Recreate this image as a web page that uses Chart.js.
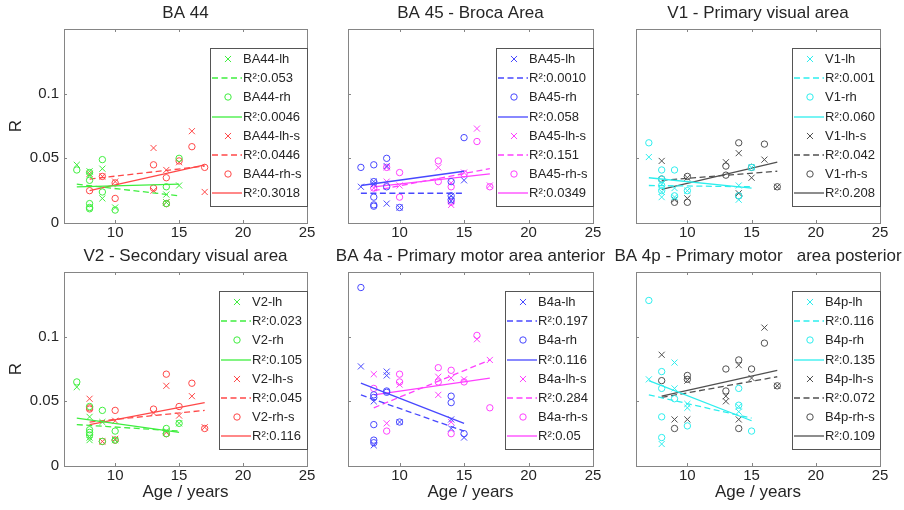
<!DOCTYPE html>
<html>
<head>
<meta charset="utf-8">
<script src="https://cdn.jsdelivr.net/npm/chart.js@4.4.1/dist/chart.umd.min.js"></script>
<style>
  body { margin: 0; background: #fff; }
  #wrap { position: relative; width: 904px; height: 510px; }
  #wrap canvas { position: absolute; left: 0; top: 0; }
</style>
</head>
<body>
<div id="wrap">
  <canvas id="p0" width="904" height="510"></canvas>
  <canvas id="p1" width="904" height="510"></canvas>
  <canvas id="p2" width="904" height="510"></canvas>
  <canvas id="p3" width="904" height="510"></canvas>
  <canvas id="p4" width="904" height="510"></canvas>
  <canvas id="p5" width="904" height="510"></canvas>
</div>
<script>
// axis ticks
const xTickValues = [10, 15, 20, 25];
const yTickValues = [0, 0.05, 0.1];

const panelTitles = [
    'BA 44',
    'BA 45 - Broca Area',
    'V1 - Primary visual area',
    'V2 - Secondary visual area',
    'BA 4a - Primary motor area anterior',
    'BA 4p - Primary motor   area posterior'
];

// BA 44
const ba44Names = ['BA44-lh', 'BA44-rh', 'BA44-lh-s', 'BA44-rh-s'];
const ba44R2 = ['0.053', '0.0046', '0.0446', '0.3018'];
const ba44Lh = [[7, 0.045], [8, 0.040], [8, 0.037], [9, 0.042], [9, 0.019], [10, 0.012], [14, 0.022], [14, 0.016], [15, 0.029]];
const ba44Rh = [[7, 0.041], [8, 0.039], [8, 0.033], [8, 0.015], [8, 0.012], [8, 0.011], [9, 0.049], [9, 0.024], [10, 0.010], [14, 0.028], [14, 0.015], [15, 0.050]];
const ba44LhS = [[8, 0.038], [9, 0.036], [10, 0.032], [13, 0.058], [13, 0.025], [14, 0.041], [14, 0.016], [15, 0.047], [16, 0.071], [17, 0.024]];
const ba44RhS = [[8, 0.025], [9, 0.036], [10, 0.031], [10, 0.019], [13, 0.045], [13, 0.027], [14, 0.035], [14, 0.015], [15, 0.048], [16, 0.059], [17, 0.043]];
const ba44Fits = [[[7, 0.030], [15, 0.021]], [[7, 0.028], [15, 0.030]], [[8, 0.034], [17, 0.044]], [[8, 0.025], [17, 0.045]]];

// BA 45
const ba45Names = ['BA45-lh', 'BA45-rh', 'BA45-lh-s', 'BA45-rh-s'];
const ba45R2 = ['0.0010', '0.058', '0.151', '0.0349'];
const ba45Lh = [[7, 0.028], [8, 0.032], [8, 0.030], [9, 0.044], [9, 0.015], [10, 0.012], [14, 0.017], [14, 0.021], [15, 0.033]];
const ba45Rh = [[7, 0.043], [8, 0.045], [8, 0.032], [8, 0.020], [8, 0.014], [8, 0.013], [9, 0.050], [9, 0.028], [10, 0.012], [14, 0.032], [14, 0.021], [14, 0.018], [15, 0.066]];
const ba45LhS = [[8, 0.027], [9, 0.032], [9, 0.043], [10, 0.029], [13, 0.043], [14, 0.031], [14, 0.014], [15, 0.039], [16, 0.073], [17, 0.029]];
const ba45RhS = [[8, 0.027], [9, 0.043], [10, 0.039], [10, 0.020], [13, 0.048], [13, 0.032], [14, 0.028], [14, 0.016], [15, 0.038], [16, 0.063], [17, 0.028]];
const ba45Fits = [[[7, 0.023], [15, 0.023]], [[7, 0.029], [15, 0.040]], [[8, 0.025], [17, 0.042]], [[8, 0.028], [17, 0.038]]];

// V1
const v1Names = ['V1-lh', 'V1-rh', 'V1-lh-s', 'V1-rh-s'];
const v1R2 = ['0.001', '0.060', '0.042', '0.208'];
const v1Lh = [[7, 0.051], [8, 0.030], [8, 0.024], [8, 0.020], [9, 0.027], [9, 0.020], [10, 0.025], [14, 0.029], [14, 0.018], [15, 0.043]];
const v1Rh = [[7, 0.062], [8, 0.041], [8, 0.034], [8, 0.029], [8, 0.025], [9, 0.041], [9, 0.021], [10, 0.025], [14, 0.021], [15, 0.043]];
const v1LhS = [[8, 0.048], [9, 0.018], [10, 0.019], [10, 0.035], [13, 0.047], [14, 0.054], [14, 0.023], [15, 0.035], [16, 0.049], [17, 0.028]];
const v1RhS = [[8, 0.034], [9, 0.016], [10, 0.036], [10, 0.016], [13, 0.044], [13, 0.037], [14, 0.062], [14, 0.021], [15, 0.043], [16, 0.061], [17, 0.028]];
const v1Fits = [[[7, 0.029], [15, 0.028]], [[7, 0.035], [15, 0.027]], [[8, 0.033], [17, 0.040]], [[8, 0.026], [17, 0.047]]];

// V2
const v2Names = ['V2-lh', 'V2-rh', 'V2-lh-s', 'V2-rh-s'];
const v2R2 = ['0.023', '0.105', '0.045', '0.116'];
const v2Lh = [[7, 0.061], [8, 0.038], [8, 0.022], [8, 0.020], [9, 0.034], [10, 0.020], [14, 0.027], [15, 0.033]];
const v2Rh = [[7, 0.065], [8, 0.046], [8, 0.028], [8, 0.026], [8, 0.024], [9, 0.043], [9, 0.019], [10, 0.027], [10, 0.020], [14, 0.029], [14, 0.025], [15, 0.033]];
const v2LhS = [[8, 0.052], [9, 0.019], [10, 0.035], [10, 0.021], [13, 0.041], [14, 0.062], [14, 0.026], [15, 0.039], [16, 0.054], [17, 0.030]];
const v2RhS = [[8, 0.045], [8, 0.044], [9, 0.019], [10, 0.043], [10, 0.020], [13, 0.044], [14, 0.071], [14, 0.025], [15, 0.046], [16, 0.064], [17, 0.029]];
const v2Fits = [[[7, 0.032], [15, 0.027]], [[7, 0.037], [15, 0.026]], [[8, 0.034], [17, 0.043]], [[8, 0.032], [17, 0.049]]];

// BA 4a
const b4aNames = ['B4a-lh', 'B4a-rh', 'B4a-lh-s', 'B4a-rh-s'];
const b4aR2 = ['0.197', '0.116', '0.284', '0.05'];
const b4aLh = [[7, 0.077], [8, 0.050], [8, 0.016], [9, 0.073], [9, 0.070], [10, 0.034], [14, 0.036], [14, 0.029], [15, 0.022]];
const b4aRh = [[7, 0.138], [8, 0.055], [8, 0.053], [8, 0.032], [8, 0.020], [8, 0.018], [9, 0.058], [9, 0.057], [10, 0.034], [14, 0.054], [14, 0.049], [15, 0.025]];
const b4aLhS = [[8, 0.071], [9, 0.033], [10, 0.063], [13, 0.069], [13, 0.055], [14, 0.068], [14, 0.034], [15, 0.067], [16, 0.098], [17, 0.082]];
const b4aRhS = [[8, 0.060], [9, 0.027], [10, 0.071], [10, 0.065], [13, 0.076], [13, 0.065], [14, 0.074], [14, 0.025], [15, 0.065], [16, 0.101], [17, 0.045]];
const b4aFits = [[[7, 0.055], [15, 0.027]], [[7, 0.064], [15, 0.033]], [[8, 0.045], [17, 0.082]], [[8, 0.055], [17, 0.068]]];

// BA 4p
const b4pNames = ['B4p-lh', 'B4p-rh', 'B4p-lh-s', 'B4p-rh-s'];
const b4pR2 = ['0.116', '0.135', '0.072', '0.109'];
const b4pLh = [[7, 0.067], [8, 0.017], [9, 0.080], [9, 0.060], [10, 0.045], [10, 0.048], [14, 0.042], [14, 0.046]];
const b4pRh = [[7, 0.128], [8, 0.073], [8, 0.060], [8, 0.038], [8, 0.022], [9, 0.052], [10, 0.031], [14, 0.060], [14, 0.047], [15, 0.027]];
const b4pLhS = [[8, 0.086], [9, 0.036], [10, 0.036], [10, 0.066], [13, 0.050], [13, 0.054], [14, 0.078], [14, 0.036], [15, 0.068], [16, 0.107], [17, 0.062]];
const b4pRhS = [[8, 0.066], [9, 0.029], [10, 0.070], [10, 0.067], [13, 0.075], [13, 0.058], [14, 0.082], [14, 0.029], [15, 0.075], [16, 0.095], [17, 0.062]];
const b4pFits = [[[7, 0.055], [15, 0.037]], [[7, 0.066], [15, 0.035]], [[8, 0.053], [17, 0.069]], [[8, 0.054], [17, 0.074]]];

const GREEN = '#3fee3f', RED = '#ff4848', BLUE = '#4848ff', MAGENTA = '#ff40ff', CYAN = '#2eeeee', GRAY = '#505050';
const FONT = '"Liberation Sans", Arial, Helvetica, sans-serif';
const TEXT = '#262626';

Chart.defaults.font.family = FONT;
Chart.defaults.color = TEXT;

const panels = [
    { names: ba44Names, r2: ba44R2, series: [ba44Lh, ba44Rh, ba44LhS, ba44RhS], fits: ba44Fits, colors: [GREEN, RED] },
    { names: ba45Names, r2: ba45R2, series: [ba45Lh, ba45Rh, ba45LhS, ba45RhS], fits: ba45Fits, colors: [BLUE, MAGENTA] },
    { names: v1Names, r2: v1R2, series: [v1Lh, v1Rh, v1LhS, v1RhS], fits: v1Fits, colors: [CYAN, GRAY] },
    { names: v2Names, r2: v2R2, series: [v2Lh, v2Rh, v2LhS, v2RhS], fits: v2Fits, colors: [GREEN, RED] },
    { names: b4aNames, r2: b4aR2, series: [b4aLh, b4aRh, b4aLhS, b4aRhS], fits: b4aFits, colors: [BLUE, MAGENTA] },
    { names: b4pNames, r2: b4pR2, series: [b4pLh, b4pRh, b4pLhS, b4pRhS], fits: b4pFits, colors: [CYAN, GRAY] }
];

// plot box geometry
const colLeft = [64, 348, 636];
const colRight = [307, 593, 880];
const rowTop = [29, 272];
const plotH = 194;
const yAxisW = 64;

const CROSS_R = 4.3, CIRCLE_R = 3.2;
const FIT_W = 1.3;

function drawMarker(ctx, style, x, y) {
    ctx.beginPath();
    if (style === 'circle') {
        ctx.arc(x, y, CIRCLE_R, 0, Math.PI * 2);
    } else {
        const d = CROSS_R * Math.SQRT1_2;
        ctx.moveTo(x - d, y - d); ctx.lineTo(x + d, y + d);
        ctx.moveTo(x - d, y + d); ctx.lineTo(x + d, y - d);
    }
    ctx.stroke();
}

// panel title centred over the plot box (chart.js centres over the padded area)
const panelTitle = {
    id: 'panelTitle',
    afterDraw(chart, args, opts) {
        const ctx = chart.ctx, a = chart.chartArea;
        ctx.save();
        ctx.font = '17px ' + FONT;
        ctx.fillStyle = TEXT;
        ctx.textAlign = 'center';
        ctx.textBaseline = 'middle';
        ctx.fillText(opts.text, (a.left + a.right) / 2, a.top - 16);
        ctx.restore();
    }
};

// box around the axes with inward ticks, like matlab
const framePlugin = {
    id: 'frame',
    afterDatasetsDraw(chart) {
        const ctx = chart.ctx, a = chart.chartArea;
        const xs = chart.scales.x, ys = chart.scales.y;
        ctx.save();
        ctx.strokeStyle = '#858585';
        ctx.lineWidth = 1;
        ctx.strokeRect(Math.round(a.left) + 0.5, Math.round(a.top) + 0.5, Math.round(a.right - a.left), Math.round(a.bottom - a.top));
        ctx.beginPath();
        xTickValues.forEach(v => {
            const px = Math.round(xs.getPixelForValue(v)) + 0.5;
            ctx.moveTo(px, a.bottom); ctx.lineTo(px, a.bottom - 3);
            ctx.moveTo(px, a.top); ctx.lineTo(px, a.top + 3);
        });
        yTickValues.forEach(v => {
            const py = Math.round(ys.getPixelForValue(v)) + 0.5;
            ctx.moveTo(a.left, py); ctx.lineTo(a.left + 3, py);
            ctx.moveTo(a.right, py); ctx.lineTo(a.right - 3, py);
        });
        ctx.stroke();
        ctx.restore();
    }
};

const boxLegend = {
    id: 'boxLegend',
    afterDatasetsDraw(chart, args, opts) {
        const ctx = chart.ctx, a = chart.chartArea;
        const items = opts.items;
        ctx.save();
        ctx.font = '13px ' + FONT;
        let maxW = 0;
        items.forEach(it => { maxW = Math.max(maxW, ctx.measureText(it.text).width); });
        const rowH = 19.2;
        const w = Math.round(33 + maxW + 5);
        const h = Math.round(rowH * items.length + 4);
        const x0 = Math.round(a.right) - w;
        const y0 = Math.round(a.top) + 19;
        ctx.fillStyle = '#fff';
        ctx.fillRect(x0, y0, w, h);
        ctx.strokeStyle = '#555';
        ctx.lineWidth = 1;
        ctx.strokeRect(x0 + 0.5, y0 + 0.5, w, h);
        items.forEach((it, i) => {
            const cy = Math.round(y0 + 11 + i * rowH);
            ctx.strokeStyle = it.color;
            if (it.marker) {
                ctx.lineWidth = 1;
                drawMarker(ctx, it.marker, x0 + 18, cy);
            } else {
                ctx.lineWidth = FIT_W;
                ctx.setLineDash(it.dash ? [6, 3.5] : []);
                ctx.beginPath();
                ctx.moveTo(x0 + 2, cy);
                ctx.lineTo(x0 + 32, cy);
                ctx.stroke();
                ctx.setLineDash([]);
            }
            ctx.fillStyle = TEXT;
            ctx.textBaseline = 'middle';
            ctx.textAlign = 'left';
            ctx.fillText(it.text, x0 + 33, cy);
        });
        ctx.restore();
    }
};

function buildPanel(idx) {
    const p = panels[idx];
    const col = idx % 3, row = Math.floor(idx / 3);
    const left = colLeft[col], right = colRight[col];
    const top = rowTop[row], bottom = top + plotH;
    const yShown = col === 0;
    const xTitle = row === 1;
    const xAxisH = xTitle ? 44 : 24;

    const datasets = [];
    const legendItems = [];
    p.series.forEach((pts, i) => {
        const color = p.colors[i < 2 ? 0 : 1];
        const marker = i % 2 === 0 ? 'crossRot' : 'circle';
        const dashed = i % 2 === 0;
        datasets.push({
            label: p.names[i],
            data: pts.map(([x, y]) => ({ x, y })),
            pointStyle: marker,
            pointRadius: marker === 'circle' ? CIRCLE_R : CROSS_R,
            pointBorderWidth: 1,
            borderColor: color,
            backgroundColor: 'rgba(0,0,0,0)',
            showLine: false
        });
        datasets.push({
            label: p.names[i] + ' fit',
            data: p.fits[i].map(([x, y]) => ({ x, y })),
            showLine: true,
            pointRadius: 0,
            borderColor: color,
            borderWidth: FIT_W,
            borderDash: dashed ? [6, 3.5] : [],
            fill: false
        });
        legendItems.push({ text: p.names[i], marker: marker === 'circle' ? 'circle' : 'cross', color });
        legendItems.push({ text: 'R\u00b2:' + p.r2[i], dash: dashed, color });
    });

    const ctx = document.getElementById('p' + idx).getContext('2d');
    return new Chart(ctx, {
        type: 'scatter',
        data: { datasets },
        options: {
            responsive: false,
            animation: false,
            events: [],
            layout: {
                autoPadding: false,
                padding: {
                    left: left - yAxisW,
                    right: 904 - right,
                    top: top,
                    bottom: 510 - bottom - xAxisH
                }
            },
            plugins: {
                legend: { display: false },
                tooltip: { enabled: false },
                title: { display: false },
                panelTitle: { text: panelTitles[idx] },
                boxLegend: { items: legendItems }
            },
            scales: {
                x: {
                    type: 'linear',
                    min: 6,
                    max: 25,
                    afterBuildTicks: s => { s.ticks = xTickValues.map(v => ({ value: v })); },
                    afterFit: s => { s.height = xAxisH; s.paddingLeft = 0; s.paddingRight = 0; },
                    grid: { display: false, drawTicks: false },
                    border: { display: false },
                    ticks: { color: TEXT, font: { size: 15 }, padding: 1, maxRotation: 0, callback: v => String(v) },
                    title: {
                        display: xTitle,
                        text: 'Age / years',
                        color: TEXT,
                        font: { size: 17 },
                        padding: { top: 0, bottom: 7 }
                    }
                },
                y: {
                    min: 0,
                    max: 0.15,
                    afterBuildTicks: s => { s.ticks = yTickValues.map(v => ({ value: v })); },
                    afterFit: s => { s.width = yAxisW; s.paddingTop = 0; s.paddingBottom = 0; },
                    grid: { display: false, drawTicks: false },
                    border: { display: false },
                    ticks: {
                        display: yShown,
                        color: TEXT,
                        font: { size: 15 },
                        padding: 5,
                        callback: v => String(v)
                    },
                    title: {
                        display: yShown,
                        text: 'R',
                        color: TEXT,
                        font: { size: 17 },
                        padding: { top: 6, bottom: 0 }
                    }
                }
            }
        },
        plugins: [framePlugin, boxLegend, panelTitle]
    });
}

panels.forEach((p, i) => buildPanel(i));
</script>
</body>
</html>
